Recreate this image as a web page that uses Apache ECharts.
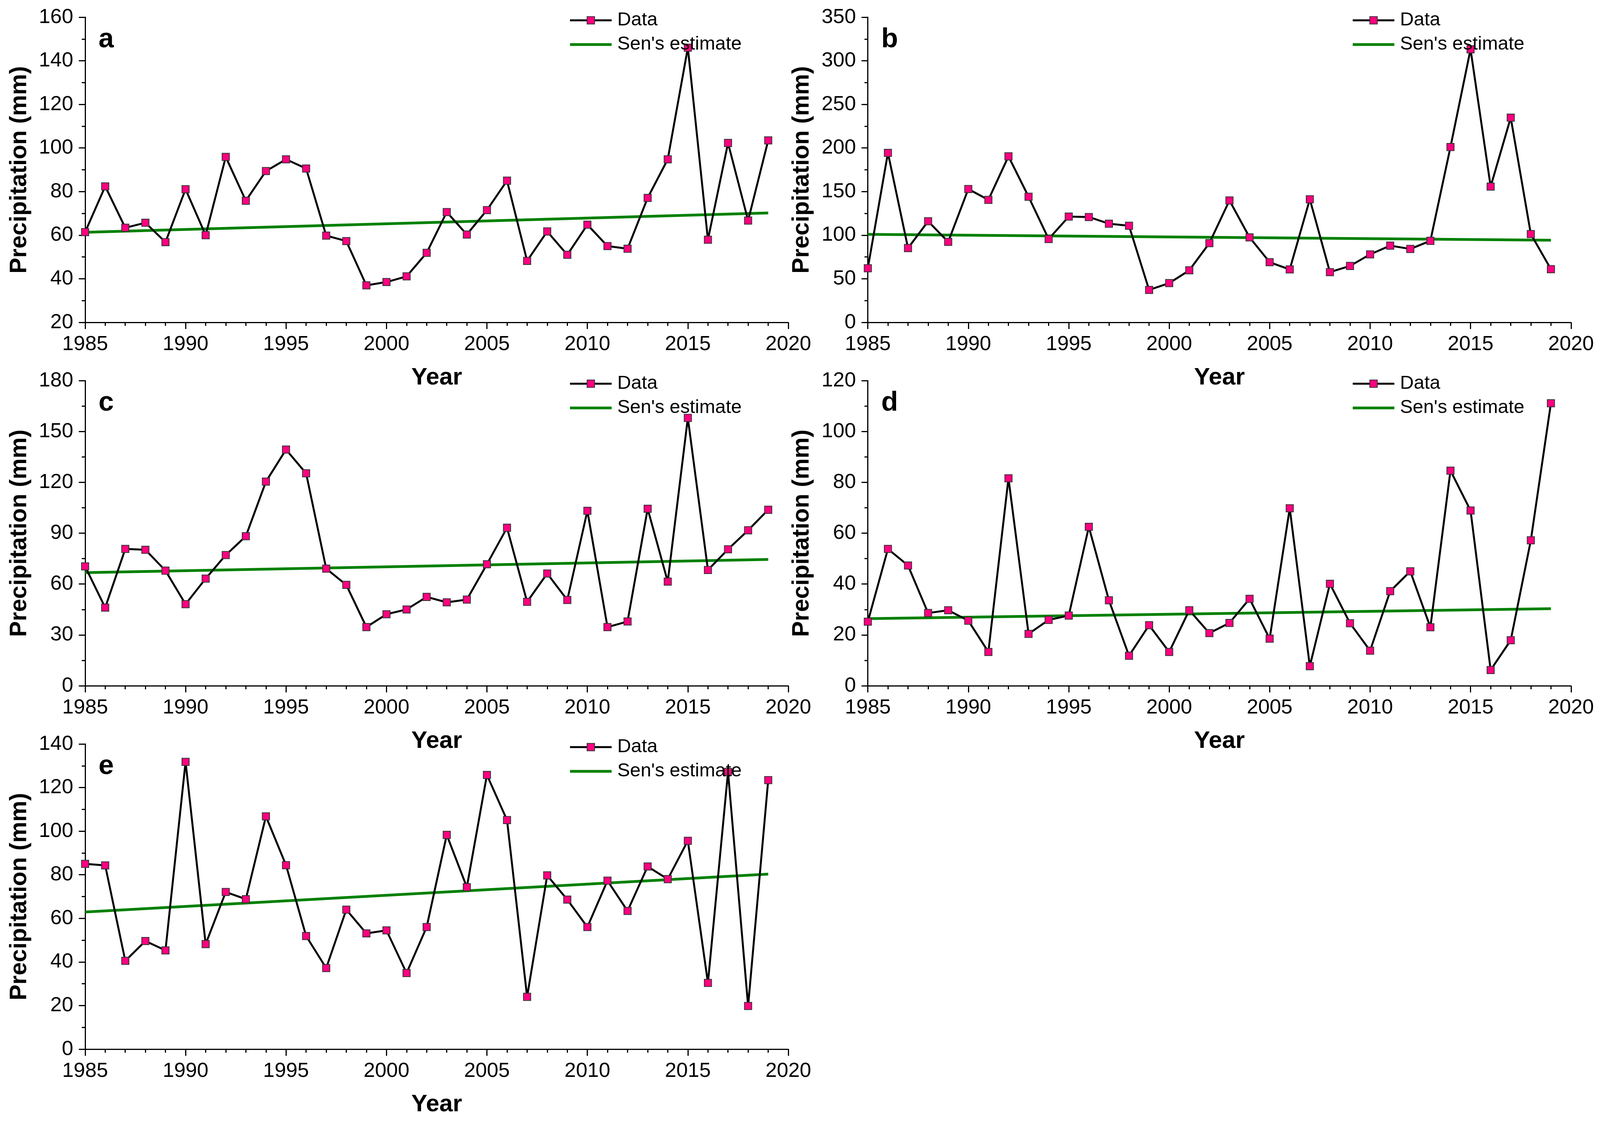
<!DOCTYPE html>
<html>
<head>
<meta charset="utf-8">
<script src="https://cdn.jsdelivr.net/npm/echarts@6/dist/echarts.min.js"></script>
<style>
  html, body { margin: 0; padding: 0; background: #ffffff; overflow: hidden; }
  #chart { width: 100vw; height: 100vh; }
</style>
</head>
<body>
<div id="chart"></div>
<script>
// ---------------- data ----------------
const years = [1985, 1986, 1987, 1988, 1989, 1990, 1991, 1992, 1993, 1994,
               1995, 1996, 1997, 1998, 1999, 2000, 2001, 2002, 2003, 2004,
               2005, 2006, 2007, 2008, 2009, 2010, 2011, 2012, 2013, 2014,
               2015, 2016, 2017, 2018, 2019];

const precipA = [61.4, 82.4, 63.4, 65.7, 56.8, 81.1, 60.0, 95.9, 75.8, 89.4,
                 94.8, 90.6, 59.8, 57.3, 37.0, 38.5, 41.1, 51.9, 70.6, 60.3,
                 71.5, 85.0, 48.2, 61.7, 51.0, 64.8, 55.0, 53.8, 77.1, 94.8,
                 146.0, 57.9, 102.3, 66.7, 103.5];
const precipB = [62.1, 194.4, 85.2, 116.0, 92.3, 152.9, 140.5, 190.4, 144.1, 95.6,
                 121.3, 120.8, 113.2, 110.8, 37.2, 45.0, 59.7, 90.9, 139.8, 97.5,
                 69.0, 60.7, 141.2, 57.6, 64.7, 78.0, 88.0, 84.2, 93.5, 201.1,
                 313.2, 155.7, 234.8, 101.3, 61.0];
const precipC = [70.4, 46.1, 80.7, 80.2, 67.9, 48.1, 63.2, 77.1, 88.2, 120.4,
                 139.3, 125.3, 69.1, 59.5, 34.6, 42.2, 45.0, 52.4, 49.2, 50.8,
                 71.7, 93.2, 49.5, 66.2, 50.6, 103.2, 34.6, 37.9, 104.4, 61.4,
                 158.0, 68.3, 80.5, 91.7, 103.8];
const precipD = [25.2, 53.8, 47.3, 28.6, 29.7, 25.6, 13.3, 81.6, 20.4, 25.9,
                 27.6, 62.5, 33.6, 11.8, 23.8, 13.3, 29.7, 20.7, 24.7, 34.2,
                 18.5, 69.8, 7.7, 40.1, 24.6, 13.8, 37.2, 45.0, 23.0, 84.6,
                 68.9, 6.2, 17.9, 57.2, 111.1];
const precipE = [85.0, 84.3, 40.5, 49.6, 45.3, 131.8, 48.2, 72.1, 68.8, 106.8,
                 84.4, 51.9, 37.2, 64.0, 53.1, 54.5, 34.9, 56.0, 98.3, 74.3,
                 125.8, 105.1, 24.0, 79.7, 68.6, 56.0, 77.3, 63.4, 83.8, 78.0,
                 95.6, 30.4, 127.2, 19.8, 123.4];

// Sen's slope estimate lines: values at the first and last year
const senYears = [1985, 2019];
const senA = [61.3, 70.2];
const senB = [101.0, 94.2];
const senC = [66.7, 74.5];
const senD = [26.4, 30.3];
const senE = [62.9, 80.3];

const panelLetters = ['a', 'b', 'c', 'd', 'e'];
const yMins  = [20, 0, 0, 0, 0];
const yMaxs  = [160, 350, 180, 120, 140];
const ySteps = [20, 50, 30, 20, 20];
const xTickMin = 1985, xTickMax = 2020, xTickStep = 5;

const seriesNames = ['Data', "Sen's estimate"];
const yTitle = 'Precipitation (mm)';
const xTitle = 'Year';

// ---------------- layout / style ----------------
// layout is designed on a 4305 x 2874 canvas and scaled to the real viewport
const W = window.innerWidth || 4305, H = window.innerHeight || 2874;
const sx = W / 4305, sy = H / 2874, sf = (sx + sy) / 2;
const X = v => v * sx, Y = v => v * sy, F = v => v * sf;

const precip = [precipA, precipB, precipC, precipD, precipE];
const sens = [senA, senB, senC, senD, senE];
const FONT = '"Liberation Sans", Arial, Helvetica, sans-serif';
const gridW = 1892, gridH = 781;
const lefts = [229, 2335, 229, 2335, 229];
const tops  = [44, 44, 974, 974, 1904];

const grids = [], xAxes = [], yAxes = [], series = [], titles = [], legends = [];

for (let i = 0; i < 5; i++) {
  grids.push({ left: X(lefts[i]), top: Y(tops[i]), width: X(gridW), height: Y(gridH), containLabel: false });

  xAxes.push({
    gridIndex: i, type: 'value', min: xTickMin, max: xTickMax, interval: xTickStep,
    name: xTitle, nameLocation: 'middle', nameGap: Y(112),
    nameTextStyle: { fontFamily: FONT, fontSize: F(63), fontWeight: 'bold', color: '#000' },
    axisLine: { show: true, onZero: false, lineStyle: { color: '#000', width: 3 } },
    axisTick: { show: true, inside: false, length: Y(17), lineStyle: { color: '#000', width: 3 } },
    minorTick: { show: true, splitNumber: 5, length: Y(9), lineStyle: { color: '#000', width: 3 } },
    axisLabel: { margin: Y(30), fontFamily: FONT, fontSize: F(54), color: '#000',
                 formatter: v => String(v) },
    splitLine: { show: false }
  });

  yAxes.push({
    gridIndex: i, type: 'value', min: yMins[i], max: yMaxs[i], interval: ySteps[i],
    name: yTitle, nameLocation: 'middle', nameGap: X(145), nameRotate: 90,
    nameTextStyle: { fontFamily: FONT, fontSize: F(62), fontWeight: 'bold', color: '#000' },
    axisLine: { show: true, onZero: false, lineStyle: { color: '#000', width: 3 } },
    axisTick: { show: true, inside: false, length: X(17), lineStyle: { color: '#000', width: 3 } },
    minorTick: { show: true, splitNumber: 2, length: X(9), lineStyle: { color: '#000', width: 3 } },
    axisLabel: { margin: X(32), fontFamily: FONT, fontSize: F(54), color: '#000',
                 formatter: v => String(v) },
    splitLine: { show: false }
  });

  series.push({
    name: seriesNames[1], type: 'line', xAxisIndex: i, yAxisIndex: i,
    data: senYears.map((y, k) => [y, sens[i][k]]),
    symbol: 'none', lineStyle: { color: '#008000', width: 7 },
    itemStyle: { color: '#008000' }, z: 2, silent: true, animation: false
  });

  series.push({
    name: seriesNames[0], type: 'line', xAxisIndex: i, yAxisIndex: i,
    data: years.map((y, k) => [y, precip[i][k]]),
    symbol: 'rect', symbolSize: F(19), showSymbol: true, showAllSymbol: true,
    lineStyle: { color: '#000', width: 5 },
    itemStyle: { color: '#FF0080', borderColor: '#333333', borderWidth: 2 },
    z: 3, clip: false, silent: true, animation: false
  });

  titles.push({
    text: panelLetters[i], left: X(lefts[i] + 36), top: Y(tops[i] + 22), padding: 0,
    textStyle: { fontFamily: FONT, fontSize: F(72), fontWeight: 'bold', color: '#000', lineHeight: F(72) }
  });

  legends.push({
    orient: 'vertical', left: X(lefts[i] + 1301), top: Y(tops[i] - 17), padding: 0,
    itemWidth: X(112), itemHeight: Y(24), itemGap: Y(12),
    data: [
      { name: seriesNames[0], lineStyle: { width: 5 } },
      { name: seriesNames[1], lineStyle: { width: 7 }, itemStyle: { opacity: 0 } }
    ],
    textStyle: { fontFamily: FONT, fontSize: F(50), color: '#000', lineHeight: Y(50), padding: [0, 0, 0, X(10)] },
    selectedMode: false
  });
}

const chart = echarts.init(document.getElementById('chart'), null, { renderer: 'canvas' });
chart.setOption({
  backgroundColor: '#ffffff',
  animation: false,
  title: titles,
  legend: legends,
  grid: grids,
  xAxis: xAxes,
  yAxis: yAxes,
  series: series
});
</script>
</body>
</html>
